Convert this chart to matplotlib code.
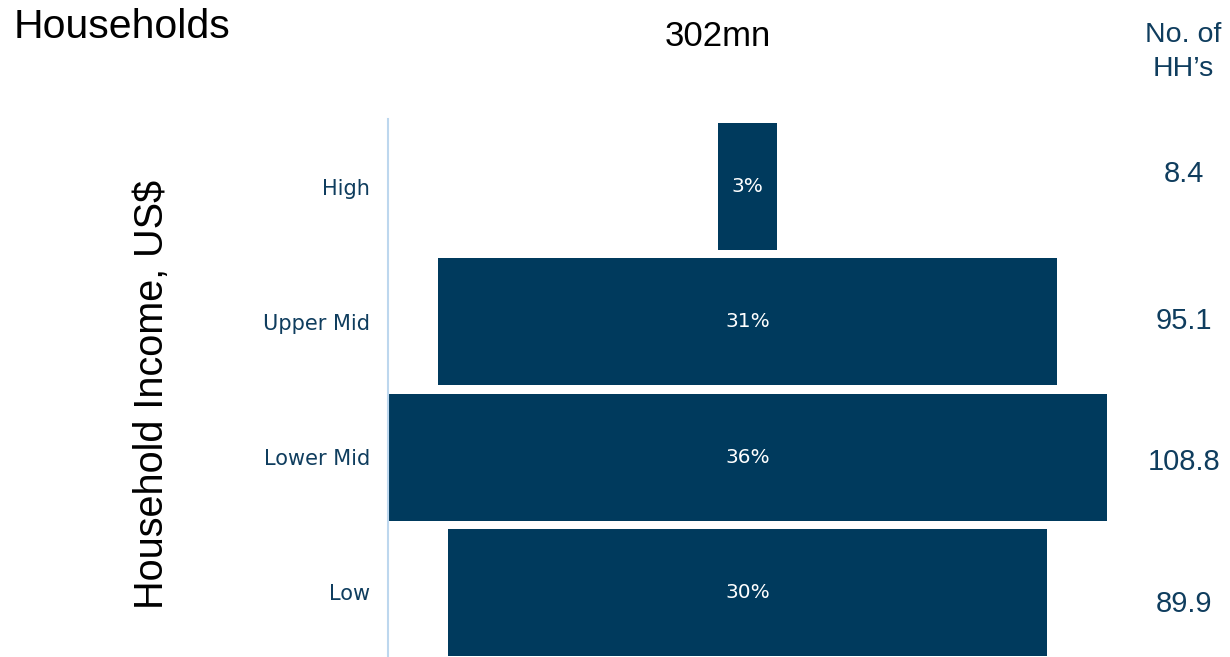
import matplotlib.pyplot as plt

plt.rcParams['font.family'] = ['Liberation Sans', 'DejaVu Sans']

categories = ["Low", "Lower Mid", "Upper Mid", "High"]
shares = [30, 36, 31, 3]
households = [89.9, 108.8, 95.1, 8.4]
# small vertical nudges (px) of the right-hand numbers, as in the original
nudge = [-12, -5, 1, 13]

navy = "#003A5D"
label_col = "#0F3D5E"

W, H = 1230, 657
fig = plt.figure(figsize=(W / 100, H / 100), dpi=100)
ax = fig.add_axes([388 / W, -3 / H, (1107 - 388) / W, 541 / H])

ypos = range(len(categories))
ax.barh(ypos, [2 * s for s in shares], left=[-s for s in shares],
        height=0.94, color=navy)
for y, s in zip(ypos, shares):
    ax.text(0, y, f"{s}%", color="white", ha="center", va="center",
            fontsize=14.5, family="DejaVu Sans")

ax.set_xlim(-36, 36)
ax.set_ylim(-0.5, 3.5)
ax.set_yticks(list(ypos))
ax.set_yticklabels(categories, fontsize=15, color=label_col,
                   family="DejaVu Sans")
ax.tick_params(axis="y", length=0, pad=13)
ax.set_xticks([])
for side in ["top", "right", "bottom"]:
    ax.spines[side].set_visible(False)
ax.spines["left"].set_color("#BDD7EE")
ax.spines["left"].set_linewidth(1.5)

# right column with household counts
fig.text(1183 / W, 1 - 52 / H, "No. of\nHH\u2019s", ha="center", va="center",
         fontsize=20.5, color=label_col, linespacing=1.35)
inv = fig.transFigure.inverted()
for y, v, d in zip(ypos, households, nudge):
    yy = ax.transData.transform((0, y))[1]
    fy = inv.transform((0, yy))[1] + d / H
    fig.text(1184 / W, fy, f"{v}", ha="center", va="center",
             fontsize=21, color=label_col)

fig.text(14 / W, 1 - 27 / H, "Households", ha="left", va="center",
         fontsize=29.5, color="black")
fig.text(718 / W, 1 - 36 / H, "302mn", ha="center", va="center",
         fontsize=25, color="black")
fig.text(152 / W, 1 - 394 / H, "Household Income, US$", rotation=90,
         ha="center", va="center", fontsize=28.5, color="black")

fig.savefig("out.png", dpi=100)
